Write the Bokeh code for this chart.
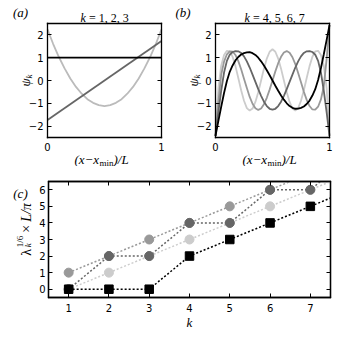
from bokeh.plotting import figure
from bokeh.models import Range1d, FixedTicker, LinearAxis, Label
from bokeh.layouts import column, row
from bokeh.embed import file_html
from bokeh.resources import INLINE

# ---------------- data ----------------
# panel (a): k = 1, 2, 3
xa_line = [0.0, 1.0]
psi_k1 = [1.0, 1.0]
psi_k2 = [-1.73, 1.73]
xa = [0.0, 0.05, 0.1, 0.15, 0.2, 0.25, 0.3, 0.35, 0.4, 0.45, 0.5,
      0.55, 0.6, 0.65, 0.7, 0.75, 0.8, 0.85, 0.9, 0.95, 1.0]
psi_k3 = [2.24, 1.60, 1.03, 0.53, 0.09, -0.28, -0.58, -0.82, -0.98, -1.08, -1.12,
          -1.08, -0.98, -0.82, -0.58, -0.28, 0.09, 0.53, 1.03, 1.60, 2.24]

# panel (b): k = 4, 5, 6, 7
xb = [0.0, 0.025, 0.05, 0.075, 0.1, 0.125, 0.15, 0.175, 0.2, 0.225, 0.25,
      0.275, 0.3, 0.325, 0.35, 0.375, 0.4, 0.425, 0.45, 0.475, 0.5,
      0.525, 0.55, 0.575, 0.6, 0.625, 0.65, 0.675, 0.7, 0.725, 0.75,
      0.775, 0.8, 0.825, 0.85, 0.875, 0.9, 0.925, 0.95, 0.975, 1.0]
psi_k4 = [-2.43, -1.78, -1.15, -0.55, -0.02, 0.38, 0.66, 0.88, 1.03, 1.14, 1.20,
          1.23, 1.24, 1.20, 1.12, 1.00, 0.84, 0.66, 0.45, 0.23, 0.0,
          -0.23, -0.45, -0.66, -0.84, -1.00, -1.12, -1.20, -1.24, -1.23, -1.20,
          -1.14, -1.03, -0.88, -0.66, -0.38, 0.02, 0.55, 1.15, 1.78, 2.43]
psi_k5 = [-2.43, -1.40, -0.45, 0.35, 0.86, 1.13, 1.25, 1.29, 1.28, 1.21, 1.06,
          0.84, 0.57, 0.26, -0.06, -0.38, -0.67, -0.93, -1.12, -1.24, -1.28,
          -1.24, -1.12, -0.93, -0.67, -0.38, -0.06, 0.26, 0.57, 0.84, 1.06,
          1.21, 1.28, 1.29, 1.25, 1.13, 0.86, 0.35, -0.45, -1.40, -2.43]
psi_k6 = [-2.43, -0.95, 0.25, 0.83, 1.15, 1.28, 1.27, 1.12, 0.85, 0.49, 0.08,
          -0.33, -0.72, -1.02, -1.22, -1.29, -1.23, -1.04, -0.76, -0.40, 0.0,
          0.40, 0.76, 1.04, 1.23, 1.29, 1.22, 1.02, 0.72, 0.33, -0.08,
          -0.49, -0.85, -1.12, -1.27, -1.28, -1.15, -0.83, -0.25, 0.95, 2.43]
psi_k7 = [-2.43, -0.35, 0.65, 1.12, 1.30, 1.28, 1.04, 0.63, 0.11, -0.43, -0.89,
          -1.21, -1.32, -1.23, -0.94, -0.51, 0.0, 0.52, 0.96, 1.26, 1.37,
          1.26, 0.96, 0.52, 0.0, -0.51, -0.94, -1.23, -1.32, -1.21, -0.89,
          -0.43, 0.11, 0.63, 1.04, 1.28, 1.30, 1.12, 0.65, -0.35, -2.43]

# panel (c): eigenvalues
k_vals = [1, 2, 3, 4, 5, 6, 7, 8]
lam_mid = [1, 2, 3, 4, 5, 6, 7, 8]
lam_light = [0, 1, 2, 3, 4, 5, 6, 7]
lam_dark = [0, 2, 2, 4, 4, 6, 6, 8]
lam_square = [0, 0, 0, 2, 3, 4, 5, 6]

ticks_ab_x = [0, 1]
ticks_ab_y = [-2, -1, 0, 1, 2]
ticks_c_x = [1, 2, 3, 4, 5, 6, 7]
ticks_c_y = [0, 1, 2, 3, 4, 5, 6]

BLACK = "#000000"
DARK = "#666666"
MID = "#999999"
LIGHT = "#cccccc"
PANEL_A_K3 = "#bbbbbb"

SERIF = "Liberation Serif"
SANS = "DejaVu Sans"
ANG = 1.5708
TOP_H = 166
STRIP_W = 36


def minus(v):
    return str(v).replace("-", "\u2212")


def style_axis(ax, labels=True, standoff=4):
    ax.major_tick_in = 4
    ax.major_tick_out = 0
    ax.minor_tick_in = 0
    ax.minor_tick_out = 0
    ax.major_tick_line_color = "black"
    ax.major_tick_line_width = 1
    ax.axis_line_color = "black"
    ax.axis_line_width = 1.3
    ax.axis_line_cap = "square"
    ax.major_label_text_font = SANS
    ax.major_label_text_font_size = "10px"
    ax.major_label_standoff = standoff
    if labels:
        ax.major_label_text_color = "black"
    else:
        ax.major_label_text_color = None
        ax.major_label_standoff = 0


def lab(p, x, y, text, dx=0, dy=0, size="13px", font=SERIF, fstyle="italic",
        align="left", baseline="alphabetic", angle=0.0):
    p.add_layout(Label(x=x, y=y, x_offset=dx, y_offset=dy, text=text,
                       text_font=font, text_font_style=fstyle,
                       text_font_size=size, text_align=align,
                       text_baseline=baseline, angle=angle,
                       text_color="black"))


def panel_ab(width, box_left, title_k_dx, title_rest_dx, title_rest, tag, tag_dx):
    # frame covers the whole canvas; the box is drawn by fixed-location axes
    box_w, box_top, box_h = 114.0, 23.0, 114.0
    ppx = box_w / 1.0
    ppy = box_h / 5.0
    height = TOP_H
    xr = Range1d(-box_left / ppx, (width - box_left) / ppx)
    yr = Range1d(-2.5 - (height - box_top - box_h) / ppy, 2.5 + box_top / ppy)
    p = figure(width=width, height=height, x_range=xr, y_range=yr,
               x_axis_type=None, y_axis_type=None,
               output_backend="svg", toolbar_location=None,
               min_border_left=0, min_border_right=0, min_border_top=0, min_border_bottom=0)
    p.outline_line_color = None
    p.background_fill_color = "white"
    p.border_fill_color = "white"
    xt = FixedTicker(ticks=ticks_ab_x)
    yt = FixedTicker(ticks=ticks_ab_y)
    ovx = {v: minus(v) for v in ticks_ab_x}
    ovy = {v: minus(v) for v in ticks_ab_y}
    b = LinearAxis(fixed_location=-2.5, bounds=(0, 1), ticker=xt, major_label_overrides=ovx)
    t = LinearAxis(fixed_location=2.5, bounds=(0, 1), ticker=FixedTicker(ticks=ticks_ab_x))
    l = LinearAxis(fixed_location=0, bounds=(-2.5, 2.5), ticker=yt, major_label_overrides=ovy)
    r = LinearAxis(fixed_location=1, bounds=(-2.5, 2.5), ticker=FixedTicker(ticks=ticks_ab_y))
    style_axis(b, True, 5)
    style_axis(l, True, 4)
    style_axis(t, False)
    style_axis(r, False)
    p.add_layout(b, "below")
    p.add_layout(t, "above")
    p.add_layout(l, "left")
    p.add_layout(r, "right")
    # x label (x - x_min)/L
    lab(p, 0.5, -2.5, "(x\u2212x", dx=-30, dy=-22)
    lab(p, 0.5, -2.5, "min", dx=-5, dy=-25, size="9px", fstyle="normal")
    lab(p, 0.5, -2.5, ")/L", dx=9, dy=-22)
    # y label psi_k
    lab(p, 0, 0, "\u03c8", dx=-22, dy=-6, angle=ANG)
    lab(p, 0, 0, "k", dx=-19, dy=2, size="9px", angle=ANG)
    # title
    lab(p, 0.5, 2.5, "k", dx=title_k_dx, dy=6, size="12px")
    lab(p, 0.5, 2.5, title_rest, dx=title_rest_dx, dy=6, size="12px", fstyle="normal")
    # panel tag
    lab(p, 0, 2.5, tag, dx=tag_dx, dy=11.5, size="13px", align="center")
    return p


# ---------------- panel (a) ----------------
pa = panel_ab(170, 47.0, -24, -15.5, "= 1, 2, 3", "(a)", -27)
pa.line(xa, psi_k3, line_color=PANEL_A_K3, line_width=1.8)
pa.line(xa_line, psi_k2, line_color=DARK, line_width=1.8)
pa.line(xa_line, psi_k1, line_color=BLACK, line_width=1.8)

# ---------------- panel (b) ----------------
pb = panel_ab(170, 45.0, -28, -19.5, "= 4, 5, 6, 7", "(b)", -32.5)
pb.line(xb, psi_k7, line_color=LIGHT, line_width=1.8)
pb.line(xb, psi_k6, line_color=MID, line_width=1.8)
pb.line(xb, psi_k5, line_color=DARK, line_width=1.8)
pb.line(xb, psi_k4, line_color=BLACK, line_width=1.8)

# ---------------- panel (c) ----------------
BOT_H = 340 - TOP_H
pc = figure(width=340 - STRIP_W, height=BOT_H, x_range=Range1d(0.5, 7.5), y_range=Range1d(-0.5, 6.5),
            x_axis_type=None, y_axis_type=None,
            output_backend="svg", toolbar_location=None,
            min_border_left=47 - STRIP_W, min_border_right=10, min_border_top=181 - TOP_H,
            min_border_bottom=43)
pc.outline_line_color = "black"
pc.outline_line_width = 1.3
pc.background_fill_color = "white"
pc.border_fill_color = "white"
cbot = LinearAxis(ticker=FixedTicker(ticks=ticks_c_x))
cleft = LinearAxis(ticker=FixedTicker(ticks=ticks_c_y))
ctop = LinearAxis(ticker=FixedTicker(ticks=ticks_c_x))
cright = LinearAxis(ticker=FixedTicker(ticks=ticks_c_y))
style_axis(cbot, True, 6)
style_axis(cleft, True, 3)
style_axis(ctop, False)
style_axis(cright, False)
cbot.axis_label = "k"
cbot.axis_label_text_font = SERIF
cbot.axis_label_text_font_style = "italic"
cbot.axis_label_text_font_size = "13px"
cbot.axis_label_text_color = "black"
cbot.axis_label_standoff = 0
pc.add_layout(cbot, "below")
pc.add_layout(cleft, "left")
pc.add_layout(ctop, "above")
pc.add_layout(cright, "right")

DOT = "2 2"
for ys, col in ((lam_mid, MID), (lam_light, LIGHT), (lam_dark, DARK)):
    pc.line(k_vals, ys, line_color=col, line_width=1.5, line_dash=DOT)
    pc.scatter(k_vals, ys, marker="circle", size=9, fill_color=col, line_color=col)
pc.line(k_vals, lam_square, line_color=BLACK, line_width=1.5, line_dash=DOT)
pc.scatter(k_vals, lam_square, marker="square", size=8.5, fill_color=BLACK, line_color=BLACK)

# strip left of panel (c) for its tag and y label (frame = whole strip)
sc = figure(width=STRIP_W, height=BOT_H, x_range=Range1d(0, STRIP_W), y_range=Range1d(0, BOT_H),
            x_axis_type=None, y_axis_type=None,
            output_backend="svg", toolbar_location=None,
            min_border_left=0, min_border_right=0, min_border_top=0, min_border_bottom=0)
sc.outline_line_color = None
sc.background_fill_color = "white"
sc.border_fill_color = "white"
lab(sc, 20, BOT_H - (183.3 - TOP_H), "(c)", size="13px", align="center")
YB, YC = 25.8, BOT_H - (237 - TOP_H)
lab(sc, YB, YC, "\u03bb", dx=0, dy=-27, size="14px", fstyle="normal", angle=ANG)
lab(sc, YB, YC, "1/6", dx=-6.5, dy=-18.3, size="9px", fstyle="normal", angle=ANG)
lab(sc, YB, YC, "k", dx=2, dy=-18.3, size="9px", angle=ANG)
lab(sc, YB, YC, "\u00d7", dx=0, dy=-3.8, size="14px", fstyle="normal", angle=ANG)
lab(sc, YB, YC, "L/\u03c0", dx=0, dy=7, size="14px", angle=ANG)

layout = column(row(pa, pb), row(sc, pc))
open("out.html", "w").write(file_html(layout, INLINE))
